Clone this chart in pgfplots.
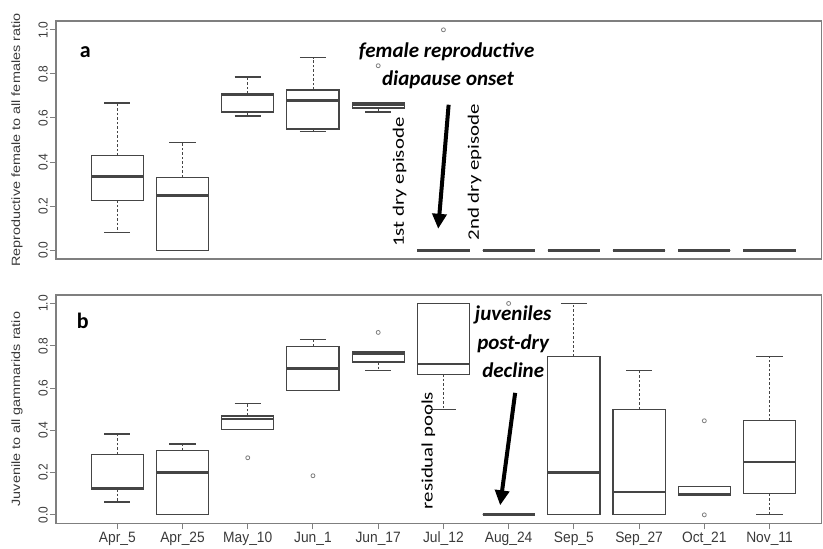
\documentclass[border=0pt]{standalone}
\usepackage{fontspec}
\setmainfont{Liberation Sans}
\newfontfamily\ticksf[FakeStretch=0.92]{Liberation Sans}
\newfontfamily\labsf[FakeStretch=1.2]{Liberation Sans}
\newfontfamily\calfont{Carlito}
\newfontfamily\calrotfont[FakeStretch=1.3]{Carlito}
\usepackage{pgfplots}
\pgfplotsset{compat=1.18}
\usepgfplotslibrary{statistics}
\usetikzlibrary{arrows.meta}

\definecolor{rink}{HTML}{454545}
\definecolor{rframe}{HTML}{7F7F7F}
\definecolor{rtext}{HTML}{3A3A3A}

\pgfplotsset{
  rbox/.style={draw=rink, line width=1.2pt, solid, mark=none,
    boxplot/draw direction=y,
    boxplot/box extend=0.8,
    boxplot/whisker extend=0.4,
    boxplot/every median/.style={line width=2.8pt},
    boxplot/draw/lower whisker/.code={%
      \draw[draw=rink, line width=0.9pt, dash pattern=on 2.5pt off 2pt]
        (boxplot box cs:\pgfplotsboxplotvalue{lower quartile},0.5) --
        (boxplot box cs:\pgfplotsboxplotvalue{lower whisker},0.5);
      \draw[draw=rink, line width=1.2pt]
        (boxplot whisker cs:\pgfplotsboxplotvalue{lower whisker},0) --
        (boxplot whisker cs:\pgfplotsboxplotvalue{lower whisker},1);
    },
    boxplot/draw/upper whisker/.code={%
      \draw[draw=rink, line width=0.9pt, dash pattern=on 2.5pt off 2pt]
        (boxplot box cs:\pgfplotsboxplotvalue{upper quartile},0.5) --
        (boxplot box cs:\pgfplotsboxplotvalue{upper whisker},0.5);
      \draw[draw=rink, line width=1.2pt]
        (boxplot whisker cs:\pgfplotsboxplotvalue{upper whisker},0) --
        (boxplot whisker cs:\pgfplotsboxplotvalue{upper whisker},1);
    },
  },
  rout/.style={only marks, mark=o, mark size=2pt, draw=gray, line width=0.8pt},
  panel/.style={
    scale only axis, width=765.7pt,
    xmin=0.06, xmax=11.8, ymin=-0.04, ymax=1.04,
    axis line style={rframe, line width=1.3pt},
    ytick={0,0.2,0.4,0.6,0.8,1},
    ytick pos=left,
    tick align=outside,
    major tick length=6pt,
    tick style={rframe, line width=1pt},
    /pgf/number format/assume math mode=true,
    yticklabel style={font=\ticksf\fontsize{13}{13}\selectfont, color=rtext,
      rotate=90, anchor=south, inner sep=2pt,
      /pgf/number format/.cd, fixed, fixed zerofill, precision=1, set decimal separator={.}},
    ylabel style={font=\labsf\fontsize{12}{12}\selectfont, color=rtext,
      at={(axis description cs:-0.0509,0.5)}, anchor=center},
  },
}

% draw position, lower whisker, lower quartile, median, upper quartile, upper whisker
\newcommand{\rbox}[6]{%
  \addplot[rbox, boxplot prepared={draw position=#1, lower whisker=#2,
    lower quartile=#3, median=#4, upper quartile=#5, upper whisker=#6}]
    coordinates {};}

\begin{document}
\begin{tikzpicture}
\useasboundingbox (0,0) rectangle (823pt,549pt);

% ---- panel a: reproductive females ----
\begin{axis}[panel, at={(56pt,290pt)}, anchor=south west, height=238pt,
  xtick=\empty,
  ylabel={Reproductive female to all females ratio}]
  \rbox{1}{0.079}{0.227}{0.334}{0.429}{0.668}
  \rbox{2}{0}{0}{0.249}{0.331}{0.487}
  \rbox{3}{0.609}{0.627}{0.705}{0.710}{0.786}
  \rbox{4}{0.538}{0.550}{0.678}{0.727}{0.873}
  \rbox{5}{0.627}{0.645}{0.662}{0.668}{0.668}
  \rbox{6}{0}{0}{0}{0}{0}
  \rbox{7}{0}{0}{0}{0}{0}
  \rbox{8}{0}{0}{0}{0}{0}
  \rbox{9}{0}{0}{0}{0}{0}
  \rbox{10}{0}{0}{0}{0}{0}
  \rbox{11}{0}{0}{0}{0}{0}
  \addplot[rout] coordinates {(5,0.837) (6,1.0)};

  \node at (axis cs:0.51,0.90) {\calfont\bfseries\fontsize{22}{22}\selectfont a};
  \node at (axis cs:6.05,0.900) {\calfont\bfseries\itshape\fontsize{21}{21}\selectfont female reproductive};
  \node at (axis cs:6.07,0.775) {\calfont\bfseries\itshape\fontsize{21}{21}\selectfont diapause onset};
  \node[rotate=90] at (axis cs:5.33,0.309) {\calrotfont\fontsize{16}{16}\selectfont 1st dry episode};
  \node[rotate=90] at (axis cs:6.48,0.354) {\calrotfont\fontsize{16}{16}\selectfont 2nd dry episode};
  \draw[line width=4pt, -{Triangle[length=15pt,width=14pt]}]
    (axis cs:6.08,0.66) -- (axis cs:5.92,0.097);
\end{axis}

% ---- panel b: juveniles ----
\begin{axis}[panel, at={(56pt,25.7pt)}, anchor=south west, height=228.3pt,
  xtick={1,2,3,4,5,6,7,8,9,10,11},
  xtick pos=bottom,
  xticklabels={Apr\_5, Apr\_25, May\_10, Jun\_1, Jun\_17, Jul\_12, Aug\_24,
    Sep\_5, Sep\_27, Oct\_21, Nov\_11},
  xticklabel style={font=\ticksf\fontsize{15}{15}\selectfont, color=rtext,
    anchor=north, inner sep=2pt, text height=11pt, text depth=3pt},
  ylabel={Juvenile to all gammarids ratio}]
  \rbox{1}{0.061}{0.122}{0.126}{0.286}{0.382}
  \rbox{2}{0}{0}{0.201}{0.303}{0.335}
  \rbox{3}{0.404}{0.404}{0.453}{0.468}{0.528}
  \rbox{4}{0.590}{0.590}{0.693}{0.797}{0.830}
  \rbox{5}{0.684}{0.723}{0.765}{0.772}{0.772}
  \rbox{6}{0.500}{0.665}{0.714}{1.000}{1.000}
  \rbox{7}{0}{0}{0}{0}{0}
  \rbox{8}{0}{0}{0.201}{0.748}{1.000}
  \rbox{9}{0}{0}{0.108}{0.500}{0.681}
  \rbox{10}{0.091}{0.091}{0.096}{0.135}{0.135}
  \rbox{11}{0}{0.100}{0.250}{0.445}{0.748}
  \addplot[rout] coordinates {(3,0.270) (4,0.185) (5,0.863) (7,1.0) (10,0.445) (10,0.0)};

  \node at (axis cs:0.47,0.92) {\calfont\bfseries\fontsize{22}{22}\selectfont b};
  \node at (axis cs:7.07,0.945) {\calfont\bfseries\itshape\fontsize{21}{21}\selectfont juveniles};
  \node at (axis cs:7.07,0.811) {\calfont\bfseries\itshape\fontsize{21}{21}\selectfont post-dry};
  \node at (axis cs:7.07,0.685) {\calfont\bfseries\itshape\fontsize{21}{21}\selectfont decline};
  \node[rotate=90] at (axis cs:5.77,0.304) {\calrotfont\fontsize{16}{16}\selectfont residual pools};
  \draw[line width=4pt, -{Triangle[length=15pt,width=14pt]}]
    (axis cs:7.10,0.577) -- (axis cs:6.87,0.045);
\end{axis}
\end{tikzpicture}
\end{document}
